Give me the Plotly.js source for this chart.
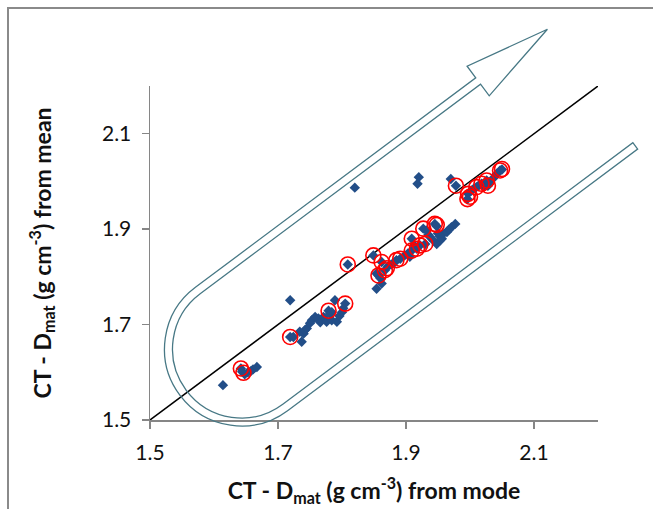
<!DOCTYPE html>
<html>
<head>
<meta charset="utf-8">
<script src="https://cdn.plot.ly/plotly-3.0.1.min.js"></script>
<style>html,body{margin:0;padding:0;background:#fff;}#chart{width:653px;height:509px;}</style>
</head>
<body>
<div id="chart"></div>
<script>
// CT - Dmat from mode (x) vs from mean (y)
const modeX = [1.614,1.642,1.644,1.648,1.653,1.658,1.661,1.667,1.719,1.719,1.724,1.737,1.734,1.740,1.742,1.745,1.750,1.753,1.758,1.763,1.766,1.771,1.776,1.779,1.781,1.784,1.784,1.789,1.792,1.796,1.800,1.802,1.805,1.809,1.820,1.849,1.854,1.857,1.854,1.862,1.860,1.862,1.867,1.872,1.877,1.882,1.885,1.891,1.898,1.903,1.906,1.909,1.909,1.913,1.917,1.922,1.927,1.930,1.932,1.935,1.938,1.943,1.945,1.948,1.948,1.950,1.953,1.953,1.956,1.958,1.964,1.967,1.971,1.977,1.920,1.918,1.970,1.978,1.997,1.996,2.002,2.006,2.010,2.014,2.018,2.022,2.026,2.028,2.031,2.036,2.042,2.047,2.050];
const meanY = [1.573,1.608,1.601,1.596,1.600,1.603,1.606,1.611,1.751,1.674,1.674,1.664,1.685,1.681,1.688,1.692,1.703,1.709,1.716,1.713,1.705,1.716,1.706,1.729,1.722,1.726,1.709,1.751,1.706,1.718,1.726,1.734,1.744,1.826,1.987,1.845,1.807,1.803,1.775,1.786,1.797,1.831,1.814,1.822,1.826,1.830,1.835,1.838,1.845,1.849,1.842,1.855,1.880,1.866,1.859,1.866,1.901,1.869,1.897,1.888,1.883,1.876,1.911,1.906,1.869,1.891,1.885,1.876,1.880,1.890,1.894,1.899,1.904,1.911,2.009,1.995,2.005,1.991,1.974,1.963,1.981,1.985,1.988,1.992,1.995,1.989,2.002,1.991,1.996,2.006,2.016,2.023,2.025];
// highlighted samples (red circles)
const hiX = [1.642,1.646,1.719,1.779,1.805,1.809,1.849,1.857,1.862,1.867,1.870,1.885,1.891,1.909,1.909,1.917,1.922,1.927,1.930,1.945,1.948,1.978,1.997,1.996,2.000,2.010,2.018,2.026,2.028,2.047,2.050];
const hiY = [1.608,1.599,1.674,1.729,1.744,1.826,1.845,1.803,1.831,1.814,1.818,1.835,1.838,1.855,1.880,1.859,1.866,1.901,1.869,1.911,1.909,1.991,1.974,1.963,1.968,1.988,1.995,2.002,1.991,2.023,2.026];
const lineX = [1.5, 2.2];
const lineY = [1.5, 2.2];
const tickVals = [1.5, 1.7, 1.9, 2.1];
const tickText = ['1.5', '1.7', '1.9', '2.1'];

// plot-area geometry (px)
const M = {l:150, r:55, t:86, b:89};
const W = 653, H = 509;
const pw = W - M.l - M.r, ph = H - M.t - M.b;
function toPaper(px, py){ return ((px - M.l)/pw).toFixed(4) + ',' + ((M.t + ph - py)/ph).toFixed(4); }

// U-turn arrow outline built in a local frame (t along diagonal, s across)
const C0 = {x:241.5, y:349};
const u = [0.801, -0.5986], v = [0.5986, 0.801];
function P(t, s){ return toPaper(C0.x + t*u[0] + s*v[0], C0.y + t*u[1] + s*v[1]); }
const k = 0.5523, RO = 77, RI = 69, HB = 350, TIP = 436.5, END = 437, AC = -73, BW = 18.5;
const arrowPath =
  'M' + P(TIP, AC) + ' L' + P(HB, AC - BW) + ' L' + P(HB, -RO) + ' L' + P(0, -RO) +
  ' C' + P(-RO*k, -RO) + ' ' + P(-RO, -RO*k) + ' ' + P(-RO, 0) +
  ' C' + P(-RO, RO*k) + ' ' + P(-RO*k, RO) + ' ' + P(0, RO) +
  ' L' + P(END, RO) + ' L' + P(END, RI) + ' L' + P(0, RI) +
  ' C' + P(-RI*k, RI) + ' ' + P(-RI, RI*k) + ' ' + P(-RI, 0) +
  ' C' + P(-RI, -RI*k) + ' ' + P(-RI*k, -RI) + ' ' + P(0, -RI) +
  ' L' + P(HB, -RI) + ' L' + P(HB, AC + BW) + ' Z';

const axisCommon = {
  range: [1.5, 2.2], tickmode: 'array', tickvals: tickVals, ticktext: tickText,
  showline: true, linecolor: '#868686', linewidth: 1.5, mirror: false,
  ticks: 'outside', ticklen: 7, tickwidth: 1.5, tickcolor: '#868686',
  showgrid: false, zeroline: false, fixedrange: true,
  tickfont: {family: 'Lato, sans-serif', size: 21, color: '#111'}
};
const titleFont = {family: 'Lato, sans-serif', size: 23, color: '#111', weight: 'bold'};

const traces = [
  {x: lineX, y: lineY, type: 'scatter', mode: 'lines', line: {color: '#000', width: 1.5}, hoverinfo: 'skip', showlegend: false},
  {x: modeX, y: meanY, type: 'scatter', mode: 'markers', marker: {symbol: 'diamond', size: 8, color: '#224e88'}, showlegend: false},
  {x: hiX, y: hiY, type: 'scatter', mode: 'markers', marker: {symbol: 'circle-open', size: 15, color: '#ff0000', line: {width: 1.6, color: '#ff0000'}}, showlegend: false}
];

const layout = {
  width: W, height: H, margin: M,
  paper_bgcolor: '#fff', plot_bgcolor: '#fff',
  showlegend: false,
  xaxis: Object.assign({}, axisCommon, {
    ticklabelstandoff: 6,
    title: {text: 'CT - D<sub>mat</sub> (g cm<sup>-3</sup>) from mode', font: titleFont, standoff: 20}
  }),
  yaxis: Object.assign({}, axisCommon, {
    ticklabelstandoff: 6,
    title: {text: 'CT - D<sub>mat</sub> (g cm<sup>-3</sup>) from mean', font: titleFont, standoff: 44}
  }),
  shapes: [
    {type: 'path', xref: 'paper', yref: 'paper', path: arrowPath, line: {color: '#477885', width: 1.3}, fillcolor: 'rgba(0,0,0,0)', layer: 'above'},
    {type: 'rect', xref: 'paper', yref: 'paper', x0: (8 - M.l)/pw, x1: (720 - M.l)/pw, y0: (M.t + ph - 8)/ph, y1: (M.t + ph - 600)/ph, line: {color: '#8a8a8a', width: 2}, fillcolor: 'rgba(0,0,0,0)', layer: 'above'}
  ]
};

Plotly.newPlot('chart', traces, layout, {displayModeBar: false, staticPlot: true});
</script>
</body>
</html>
